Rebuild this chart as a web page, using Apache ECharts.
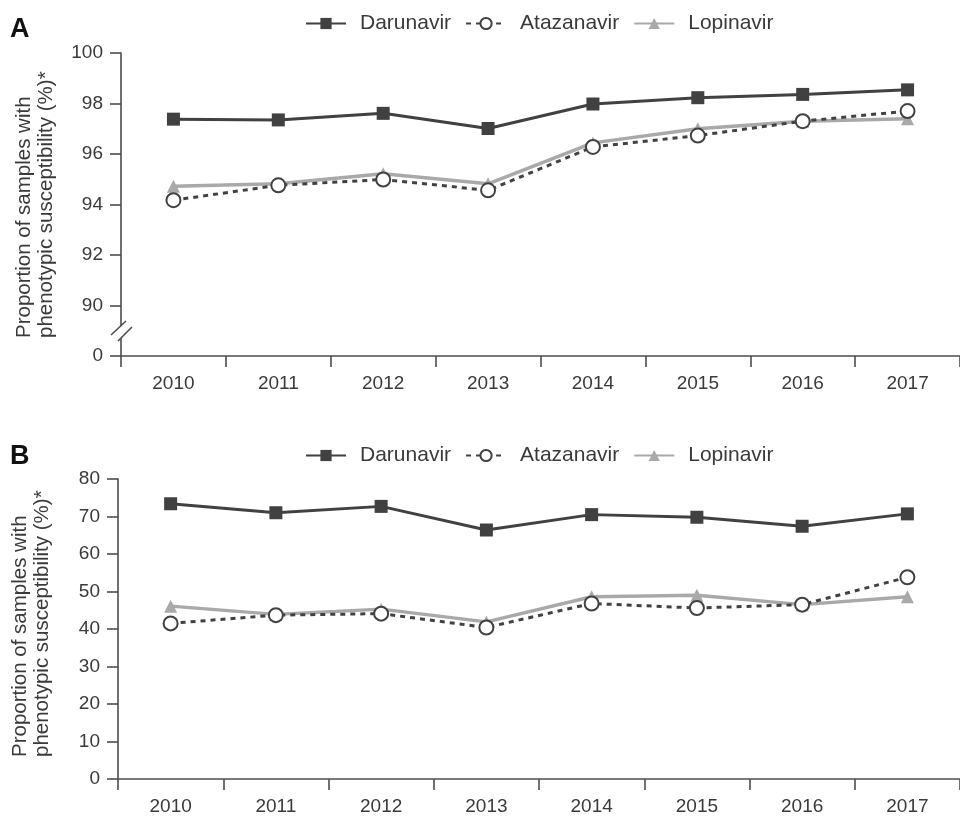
<!DOCTYPE html>
<html>
<head>
<meta charset="utf-8">
<script src="https://cdn.jsdelivr.net/npm/echarts@6/dist/echarts.min.js"></script>
<style>
  html, body { margin: 0; padding: 0; background: #fff; }
  #chart { width: 960px; height: 816px; }
</style>
</head>
<body>
<div id="chart"></div>
<script>
// Years on the x axis of both panels
const years = ['2010', '2011', '2012', '2013', '2014', '2015', '2016', '2017'];

// Panel A: all samples (%)
const darunavirA  = [97.38, 97.35, 97.61, 97.01, 97.98, 98.23, 98.36, 98.54];
const atazanavirA = [94.17, 94.76, 94.99, 94.56, 96.28, 96.73, 97.30, 97.70];
const lopinavirA  = [94.72, 94.82, 95.22, 94.82, 96.44, 97.00, 97.30, 97.40];

// Panel B: subset (%)
const darunavirB  = [73.4, 71.0, 72.7, 66.4, 70.5, 69.8, 67.4, 70.7];
const atazanavirB = [41.5, 43.7, 44.1, 40.4, 46.8, 45.6, 46.5, 53.8];
const lopinavirB  = [46.1, 43.9, 45.3, 41.9, 48.6, 49.0, 46.5, 48.6];

// Panel A tick labels: the bottom tick stands for 0 below the axis break
const yTicksA = { 88: '0', 90: '90', 92: '92', 94: '94', 96: '96', 98: '98', 100: '100' };

const yTitle = 'Proportion of samples with\nphenotypic susceptibility (%)*';

const DARK = '#414141';
const GREY = '#a9a9a9';
const AXIS = '#4d4d4d';
const TEXT = '#3a3a3a';
const FONT = 'Liberation Sans, Arial, Helvetica, sans-serif';
const FS = 19;

function xAxisFor(gridIndex) {
  return {
    type: 'category', gridIndex, data: years, boundaryGap: true,
    axisLine: { lineStyle: { color: AXIS, width: 1.6 } },
    axisTick: { show: true, interval: 0, length: 11, lineStyle: { color: AXIS, width: 1.6 } },
    axisLabel: { color: TEXT, fontSize: FS, fontFamily: FONT, margin: 18 },
    splitLine: { show: false }
  };
}

function yAxisFor(gridIndex, min, max, interval, formatter) {
  return {
    type: 'value', gridIndex, min, max, interval,
    axisLine: { show: true, lineStyle: { color: AXIS, width: 1.6 } },
    axisTick: { show: true, length: 11, lineStyle: { color: AXIS, width: 1.6 } },
    axisLabel: { color: TEXT, fontSize: FS, fontFamily: FONT, margin: 18, formatter },
    splitLine: { show: false }
  };
}

function seriesFor(idx, dar, ata, lop) {
  return [
    {
      name: 'Darunavir', type: 'line', xAxisIndex: idx, yAxisIndex: idx, data: dar,
      symbol: 'rect', symbolSize: 13, z: 3,
      lineStyle: { color: DARK, width: 3 }, itemStyle: { color: DARK }
    },
    {
      name: 'Lopinavir', type: 'line', xAxisIndex: idx, yAxisIndex: idx, data: lop,
      symbol: 'triangle', symbolSize: 13, z: 2,
      lineStyle: { color: GREY, width: 3.5 }, itemStyle: { color: GREY }
    },
    {
      name: 'Atazanavir', type: 'line', xAxisIndex: idx, yAxisIndex: idx, data: ata,
      symbol: 'circle', symbolSize: 14, z: 4,
      lineStyle: { color: DARK, width: 3, type: [5, 5] },
      itemStyle: { color: '#fff', borderColor: DARK, borderWidth: 2 }
    }
  ];
}

function legendFor(top) {
  return {
    top, left: 300, itemWidth: 40, itemHeight: 14, itemGap: 14,
    data: ['Darunavir', 'Atazanavir', 'Lopinavir'],
    textStyle: { color: TEXT, fontSize: 21, fontFamily: FONT, padding: [0, 0, 0, 9] },
    selectedMode: false
  };
}

// Rotated two-line y-axis title, lines left-aligned (bottom-aligned once rotated)
function yTitleFor(x, yStart) {
  return {
    type: 'text', x, y: yStart, rotation: Math.PI / 2,
    style: {
      text: yTitle, fontSize: 20.5, fontFamily: FONT, fill: TEXT,
      align: 'left', verticalAlign: 'middle', lineHeight: 22
    }
  };
}

const chart = echarts.init(document.getElementById('chart'), null, { renderer: 'canvas' });

const baseGraphic = [
  { type: 'text', left: 10, top: 16, style: { text: 'A', fontSize: 27, fontWeight: 'bold', fontFamily: FONT, fill: '#111' } },
  { type: 'text', left: 10, top: 443, style: { text: 'B', fontSize: 27, fontWeight: 'bold', fontFamily: FONT, fill: '#111' } },
  yTitleFor(35, 338),
  yTitleFor(31, 757)
];

chart.setOption({
  animation: false,
  backgroundColor: '#fff',
  grid: [
    { left: 121, top: 53, width: 848, height: 303 },
    { left: 118, top: 479, width: 846, height: 303 }
  ],
  legend: [legendFor(8), legendFor(440)],
  xAxis: [xAxisFor(0), xAxisFor(1)],
  yAxis: [
    yAxisFor(0, 88, 100, 2, v => yTicksA[v] ?? ''),
    yAxisFor(1, 0, 80, 10, v => String(v))
  ],
  series: [
    ...seriesFor(0, darunavirA, atazanavirA, lopinavirA),
    ...seriesFor(1, darunavirB, atazanavirB, lopinavirB)
  ],
  graphic: baseGraphic
});

// Axis break marks on panel A, between the "0" and "90" ticks
const breakY = chart.convertToPixel({ gridIndex: 0 }, ['2010', 88.95])[1];
const x0 = 121;
chart.setOption({
  graphic: baseGraphic.concat([
    {
      type: 'polygon', z: 100,
      shape: { points: [[x0 - 4, breakY - 2], [x0 + 4, breakY - 9], [x0 + 4, breakY + 3], [x0 - 4, breakY + 10]] },
      style: { fill: '#fff' }
    },
    {
      type: 'line', z: 101,
      shape: { x1: x0 - 10, y1: breakY + 3, x2: x0 + 5, y2: breakY - 11 },
      style: { stroke: AXIS, lineWidth: 1.6 }
    },
    {
      type: 'line', z: 101,
      shape: { x1: x0 - 3, y1: breakY + 9, x2: x0 + 11, y2: breakY - 5 },
      style: { stroke: AXIS, lineWidth: 1.6 }
    }
  ])
});
</script>
</body>
</html>
